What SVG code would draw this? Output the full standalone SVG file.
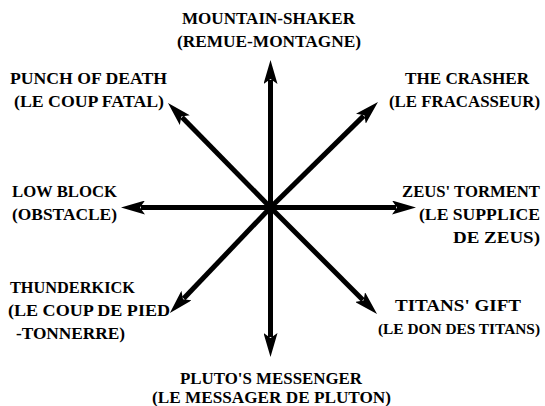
<svg xmlns="http://www.w3.org/2000/svg" width="545" height="406" viewBox="0 0 545 406">
<style>
text{font-family:"Liberation Serif","DejaVu Serif",serif;font-size:16px;font-weight:bold;fill:#000}
.c line{stroke:#000;stroke-width:5;marker-end:url(#ah)}
</style>
<defs>
<marker id="ah" viewBox="0 0 24 14" refX="4" refY="7" markerWidth="24" markerHeight="14" markerUnits="userSpaceOnUse" orient="auto">
<path d="M0,0 L24,7 L0,14 L5,7 Z" fill="#000"/>
</marker>
</defs>
<rect width="545" height="406" fill="#fff"/>
<g class="c" id="connectors">
<line x1="270.5" y1="207.5" x2="270.5" y2="80"/>
<line x1="270.5" y1="207.5" x2="270.5" y2="337"/>
<line x1="270.5" y1="207.5" x2="141" y2="207.5"/>
<line x1="270.5" y1="207.5" x2="396" y2="207.5"/>
<line x1="270.5" y1="207.5" x2="182" y2="117.3"/>
<line x1="270.5" y1="207.5" x2="363.7" y2="115.9"/>
<line x1="270.5" y1="207.5" x2="183.7" y2="298.5"/>
<line x1="270.5" y1="207.5" x2="362.9" y2="299.9"/>
<circle cx="270.5" cy="207.5" r="5" fill="#000"/>
</g>
<g id="mountain-shaker">
<text x="182" y="24" textLength="173" lengthAdjust="spacingAndGlyphs">MOUNTAIN-SHAKER</text>
<text x="177" y="47" textLength="184" lengthAdjust="spacingAndGlyphs">(REMUE-MONTAGNE)</text>
</g>
<g id="punch-of-death">
<text x="10" y="84" textLength="157" lengthAdjust="spacingAndGlyphs">PUNCH OF DEATH</text>
<text x="14" y="107" textLength="150" lengthAdjust="spacingAndGlyphs">(LE COUP FATAL)</text>
</g>
<g id="the-crasher">
<text x="405" y="84" textLength="124" lengthAdjust="spacingAndGlyphs">THE CRASHER</text>
<text x="389" y="107" textLength="151" lengthAdjust="spacingAndGlyphs">(LE FRACASSEUR)</text>
</g>
<g id="low-block">
<text x="12" y="197" textLength="105" lengthAdjust="spacingAndGlyphs">LOW BLOCK</text>
<text x="12" y="220" textLength="105" lengthAdjust="spacingAndGlyphs">(OBSTACLE)</text>
</g>
<g id="zeus-torment">
<text x="402" y="197" textLength="138" lengthAdjust="spacingAndGlyphs">ZEUS' TORMENT</text>
<text x="419" y="220" textLength="121" lengthAdjust="spacingAndGlyphs">(LE SUPPLICE</text>
<text x="453" y="243" textLength="87" lengthAdjust="spacingAndGlyphs">DE ZEUS)</text>
</g>
<g id="thunderkick">
<text x="10" y="293" textLength="125" lengthAdjust="spacingAndGlyphs">THUNDERKICK</text>
<text x="8" y="316" textLength="162" lengthAdjust="spacingAndGlyphs">(LE COUP DE PIED</text>
<text x="16" y="339" textLength="109" lengthAdjust="spacingAndGlyphs">-TONNERRE)</text>
</g>
<g id="titans-gift">
<text x="395" y="311" textLength="126" lengthAdjust="spacingAndGlyphs">TITANS' GIFT</text>
<text x="378" y="334" style="font-size:15px" textLength="162" lengthAdjust="spacingAndGlyphs">(LE DON DES TITANS)</text>
</g>
<g id="plutos-messenger">
<text x="180" y="384" textLength="182" lengthAdjust="spacingAndGlyphs">PLUTO'S MESSENGER</text>
<text x="152" y="403" textLength="239" lengthAdjust="spacingAndGlyphs">(LE MESSAGER DE PLUTON)</text>
</g>
</svg>
